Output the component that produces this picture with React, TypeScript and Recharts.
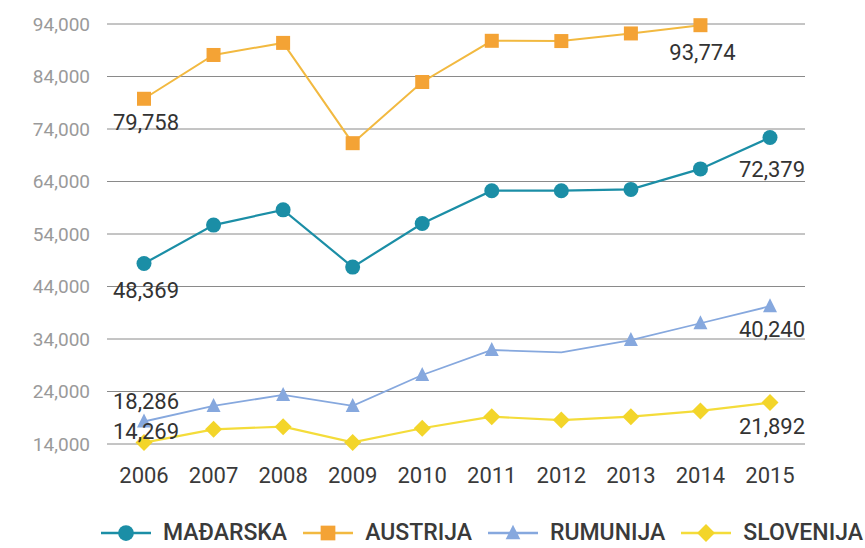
import React from 'react';
import { LineChart, Line, XAxis, YAxis, CartesianGrid, Legend } from 'recharts';

const years = ['2006', '2007', '2008', '2009', '2010', '2011', '2012', '2013', '2014', '2015'];
const madarska = [48369, 55700, 58600, 47700, 56000, 62250, 62250, 62500, 66400, 72379];
const austrija: (number | null)[] = [79758, 88100, 90400, 71300, 82950, 90800, 90750, 92200, 93774, null];
const rumunija = [18286, 21250, 23350, 21250, 27150, 31900, 31450, 33800, 37000, 40240];
const slovenija = [14269, 16800, 17300, 14300, 17000, 19200, 18550, 19200, 20300, 21892];
const yTicks = [14000, 24000, 34000, 44000, 54000, 64000, 74000, 84000, 94000];

const data = years.map((y, i) => ({
  year: y,
  madarska: madarska[i],
  austrija: austrija[i],
  rumunija: rumunija[i],
  slovenija: slovenija[i],
}));

const FONT = 'Roboto, "DejaVu Sans", sans-serif';
const C_TEAL = '#1b8ea6';
const C_ORANGE = '#f4a335';
const C_ORANGE_LINE = '#f2b940';
const C_BLUE = '#86a8de';
const C_YELLOW = '#f3d52a';
const C_YELLOW_LINE = '#f4dc3a';

type Shape = 'circle' | 'square' | 'triangle' | 'diamond';

const drawMarker = (shape: Shape, cx: number, cy: number, fill: string, s = 1) => {
  if (shape === 'circle') return <circle cx={cx} cy={cy} r={7.5 * s} fill={fill} />;
  if (shape === 'square') {
    const h = 7 * s;
    return <rect x={cx - h} y={cy - h} width={2 * h} height={2 * h} fill={fill} />;
  }
  if (shape === 'triangle') {
    const h = 7 * s;
    return <polygon points={`${cx},${cy - h - 1} ${cx + h},${cy + h - 1} ${cx - h},${cy + h - 1}`} fill={fill} />;
  }
  const h = 8.5 * s;
  return <polygon points={`${cx},${cy - h} ${cx + h},${cy} ${cx},${cy + h} ${cx - h},${cy}`} fill={fill} />;
};

// label placements: index -> [dx, dy]
const makeDot = (shape: Shape, fill: string, labels: Record<number, [number, number]>, hidden: number[] = []) =>
  (props: any) => {
    const { cx, cy, index, value } = props;
    if (cx == null || cy == null || value == null) return <g key={`d-${index}`} />;
    const lab = labels[index];
    return (
      <g key={`d-${index}`}>
        {hidden.includes(index) ? null : drawMarker(shape, cx, cy, fill)}
        {lab ? (
          <text x={cx + lab[0]} y={cy + lab[1]} textAnchor="middle" fontFamily={FONT} fontSize={22} fill="#333">
            {Number(value).toLocaleString('en-US')}
          </text>
        ) : null}
      </g>
    );
  };

const legendItems: { name: string; shape: Shape; color: string; line: string }[] = [
  { name: 'MAĐARSKA', shape: 'circle', color: C_TEAL, line: C_TEAL },
  { name: 'AUSTRIJA', shape: 'square', color: C_ORANGE, line: C_ORANGE_LINE },
  { name: 'RUMUNIJA', shape: 'triangle', color: C_BLUE, line: C_BLUE },
  { name: 'SLOVENIJA', shape: 'diamond', color: C_YELLOW, line: C_YELLOW_LINE },
];

const renderLegend = () => (
  <div style={{ display: 'flex', alignItems: 'center', fontFamily: FONT, height: 26 }}>
    {legendItems.map((it, i) => (
      <div key={it.name} style={{ display: 'flex', alignItems: 'center', marginLeft: i === 0 ? 0 : 16 }}>
        <svg width={50} height={20}>
          <line x1={0} x2={50} y1={10} y2={10} stroke={it.line} strokeWidth={2.5} />
          {drawMarker(it.shape, 25, 10, it.color, 1.05)}
        </svg>
        <span style={{ marginLeft: 12, fontSize: 23, fontWeight: 500, color: '#3a3a3a', lineHeight: '26px', whiteSpace: 'nowrap' }}>
          {it.name}
        </span>
      </div>
    ))}
  </div>
);

export default function App() {
  return (
    <div style={{ position: 'absolute', left: 0, top: 0, width: 865, height: 548, background: '#fff' }}>
      <LineChart width={865} height={548} data={data} margin={{ top: 24, right: 60, bottom: 54, left: 0 }}>
        <CartesianGrid vertical={false} stroke="#8a8a8a" strokeWidth={1} />
        <XAxis
          dataKey="year"
          padding={{ left: 37, right: 35 }}
          axisLine={false}
          tickLine={false}
          tickSize={0}
          tickMargin={23}
          height={50}
          interval={0}
          tick={{ fontFamily: FONT, fontSize: 22, fill: '#3a3a3a' }}
        />
        <YAxis
          domain={[14000, 94000]}
          ticks={yTicks}
          width={107}
          axisLine={false}
          tickLine={false}
          tickSize={0}
          tickMargin={17}
          tickFormatter={(v: number) => v.toLocaleString('en-US')}
          tick={{ fontFamily: FONT, fontSize: 19, fill: '#9a9a9a' }}
        />
        <Legend
          layout="horizontal"
          verticalAlign="middle"
          align="center"
          content={renderLegend}
          wrapperStyle={{ left: 101, top: 520, width: 764 }}
        />
        <Line
          dataKey="madarska"
          stroke={C_TEAL}
          strokeWidth={2.2}
          isAnimationActive={false}
          activeDot={false}
          dot={makeDot('circle', C_TEAL, { 0: [2, 34], 9: [2, 39] })}
        />
        <Line
          dataKey="austrija"
          stroke={C_ORANGE_LINE}
          strokeWidth={2}
          isAnimationActive={false}
          activeDot={false}
          dot={makeDot('square', C_ORANGE, { 0: [2, 31], 8: [2, 35] })}
        />
        <Line
          dataKey="rumunija"
          stroke={C_BLUE}
          strokeWidth={1.8}
          isAnimationActive={false}
          activeDot={false}
          dot={makeDot('triangle', C_BLUE, { 0: [2, -12], 9: [2, 31] }, [6])}
        />
        <Line
          dataKey="slovenija"
          stroke={C_YELLOW_LINE}
          strokeWidth={2.2}
          isAnimationActive={false}
          activeDot={false}
          dot={makeDot('diamond', C_YELLOW, { 0: [2, -4], 9: [2, 31] })}
        />
      </LineChart>
    </div>
  );
}
